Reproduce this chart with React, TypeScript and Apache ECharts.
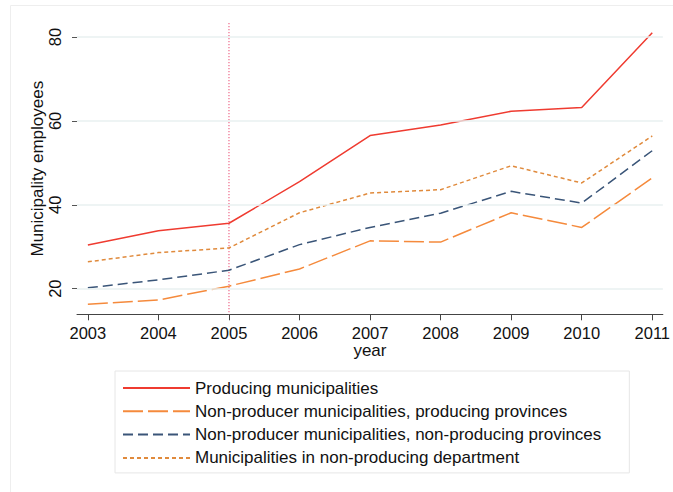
import React, { useEffect, useRef } from "react";
import * as echarts from "echarts";

// Years and average municipality employees per group
const years = [2003, 2004, 2005, 2006, 2007, 2008, 2009, 2010, 2011];
const producing = [30.4, 33.8, 35.6, 45.5, 56.5, 59.0, 62.3, 63.2, 81.0];
const nonProducerProducingProv = [16.3, 17.3, 20.6, 24.7, 31.4, 31.1, 38.1, 34.6, 46.4];
const nonProducerNonProducingProv = [20.2, 22.1, 24.4, 30.5, 34.6, 38.0, 43.2, 40.4, 52.9];
const nonProducingDept = [26.4, 28.6, 29.7, 38.1, 42.8, 43.6, 49.3, 45.2, 56.4];

const seriesNames = [
  "Producing municipalities",
  "Non-producer municipalities, producing provinces",
  "Non-producer municipalities, non-producing provinces",
  "Municipalities in non-producing department",
];
const yTicks = [20, 40, 60, 80];
const treatmentYear = 2005;
const Y_MIN = 13.89;
const Y_MAX = 83.34;

const FONT = '"Liberation Sans", Arial, Helvetica, sans-serif';

const pairs = (vals: number[]) => years.map((y, i) => [y, vals[i]]);

export default function App() {
  const ref = useRef<HTMLDivElement>(null);

  useEffect(() => {
    if (!ref.current) return;
    const chart = echarts.init(ref.current, undefined, { renderer: "svg" });

    const lineSeries = (name: string, vals: number[], color: string, type: any) => ({
      name,
      type: "line",
      data: pairs(vals),
      symbol: "none",
      z: 3,
      lineStyle: { color, width: 1.5, type },
      itemStyle: { color },
    });

    chart.setOption({
      animation: false,
      backgroundColor: "#ffffff",
      textStyle: { fontFamily: FONT },
      graphic: [
        {
          type: "rect",
          shape: { x: 10.5, y: 5.5, width: 700, height: 520 },
          style: { fill: "none", stroke: "#eeeeee", lineWidth: 1 },
          silent: true,
          z: -10,
        },
      ],
      grid: { left: 77, right: 4, top: 23, bottom: 177.7 },
      xAxis: {
        type: "value",
        min: 2002.846,
        max: 2011.15,
        name: "year",
        nameLocation: "middle",
        nameGap: 28,
        nameMoveOverlap: false,
        nameTextStyle: { color: "#111", fontSize: 17, fontFamily: FONT },
        axisLine: { show: true, lineStyle: { color: "#444", width: 1 } },
        axisTick: { show: true, length: 6, customValues: years, lineStyle: { color: "#444" } },
        axisLabel: {
          customValues: years,
          color: "#111",
          fontSize: 16.5,
          margin: 10,
          fontFamily: FONT,
          formatter: (v: number) => String(Math.round(v)),
        },
        splitLine: { show: false },
      },
      yAxis: {
        type: "value",
        min: Y_MIN,
        max: Y_MAX,
        name: "Municipality employees",
        nameLocation: "middle",
        nameGap: 31,
        nameMoveOverlap: false,
        nameTextStyle: { color: "#111", fontSize: 17, fontFamily: FONT },
        axisLine: { show: false },
        axisTick: { show: true, length: 5, customValues: yTicks, lineStyle: { color: "#555" } },
        axisLabel: {
          customValues: yTicks,
          rotate: 90,
          color: "#111",
          fontSize: 16.5,
          margin: 14,
          fontFamily: FONT,
        },
        splitLine: { show: false },
      },
      legend: {
        orient: "vertical",
        left: 115,
        top: 371,
        data: seriesNames,
        padding: [7, 28, 5, 7],
        itemGap: 3.3,
        itemWidth: 67,
        itemHeight: 14,
        borderColor: "#e6e6e6",
        borderWidth: 1,
        backgroundColor: "#ffffff",
        itemStyle: {
          color: "rgba(0,0,0,0)",
          borderColor: "rgba(0,0,0,0)",
          borderWidth: 0,
          opacity: 0,
        },
        textStyle: { color: "#111", fontSize: 17, lineHeight: 20, fontFamily: FONT },
      },
      series: [
        {
          name: "grid",
          type: "line",
          data: [],
          z: 1,
          silent: true,
          markLine: {
            silent: true,
            symbol: "none",
            label: { show: false },
            lineStyle: { color: "#e9f0f1", width: 1.5, type: "solid" },
            data: yTicks.map((v) => ({ yAxis: v })),
          },
        },
        {
          // dotted reference line at the treatment year, spanning the full plot height
          name: "treatment",
          type: "line",
          data: [
            [treatmentYear, Y_MAX],
            [treatmentYear, Y_MIN],
          ],
          symbol: "none",
          z: 2,
          silent: true,
          lineStyle: { color: "#ee6a8a", width: 1.2, type: [1.2, 1.8] },
        },
        lineSeries(seriesNames[0], producing, "#ef3b30", "solid"),
        lineSeries(seriesNames[1], nonProducerProducingProv, "#f58a3c", [20, 5]),
        lineSeries(seriesNames[2], nonProducerNonProducingProv, "#3a5578", [10, 5]),
        lineSeries(seriesNames[3], nonProducingDept, "#e08a3c", [4, 3]),
      ],
    });

    return () => chart.dispose();
  }, []);

  return (
    <div
      ref={ref}
      style={{ position: "absolute", left: 0, top: 0, width: 673, height: 492 }}
    />
  );
}
